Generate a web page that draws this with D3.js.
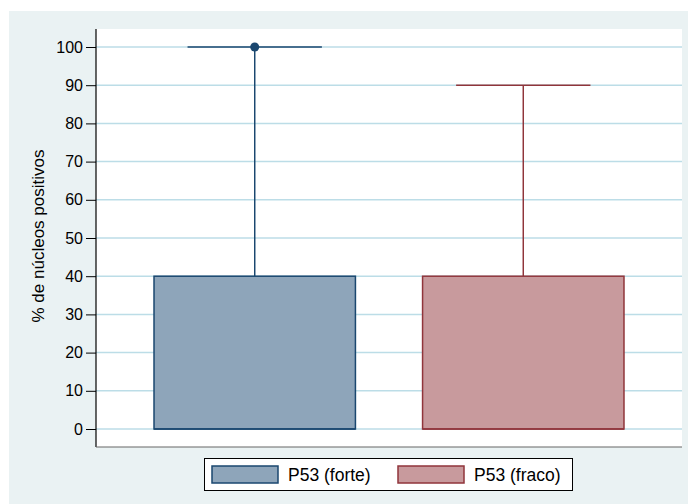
<!DOCTYPE html>
<html>
<head>
<meta charset="utf-8">
<script src="https://cdn.jsdelivr.net/npm/d3@7"></script>
<style>
  html, body { margin: 0; padding: 0; background: #ffffff; }
  svg { display: block; font-family: "Liberation Sans", Arial, sans-serif; }
</style>
</head>
<body>
<svg id="chart" width="688" height="504"></svg>
<script>
// Box plot summary per group
const groups = ["P53 (forte)", "P53 (fraco)"];
const q1Values = [0, 0];
const medianValues = [0, 0];
const q3Values = [40, 40];
const lowerWhisker = [0, 0];
const upperWhisker = [100, 90];
const outliers = [[100], []];
const yTicks = [0, 10, 20, 30, 40, 50, 60, 70, 80, 90, 100];
const strokeColors = ["#1a476f", "#90353b"];
const fillColors = ["#8ea5ba", "#c89a9d"];

const svg = d3.select("#chart");

// outer graph region
svg.append("rect").attr("x", 9).attr("y", 11).attr("width", 679).attr("height", 493)
  .attr("fill", "#eaf2f3");

const plot = { left: 96, right: 682, top: 29, bottom: 447 };
svg.append("rect").attr("x", plot.left).attr("y", plot.top)
  .attr("width", plot.right - plot.left).attr("height", plot.bottom - plot.top)
  .attr("fill", "#ffffff");

const y = d3.scaleLinear().domain([0, 100]).range([429, 47]);
const x = d3.scaleBand().domain(groups).range([plot.left, plot.right])
  .paddingInner(0.25).paddingOuter(0.216);

// gridlines
svg.append("g").selectAll("line").data(yTicks).join("line")
  .attr("x1", plot.left).attr("x2", plot.right)
  .attr("y1", d => y(d)).attr("y2", d => y(d))
  .attr("stroke", "#bcdde7").attr("stroke-width", 1.5);

// y axis
const yAxis = d3.axisLeft(y).tickValues(yTicks).tickSize(10).tickPadding(3);
const gy = svg.append("g").attr("transform", `translate(${plot.left},0)`).call(yAxis);
gy.select(".domain").remove();
gy.selectAll(".tick line").attr("stroke", "#000").attr("stroke-width", 1);
gy.selectAll(".tick text").attr("font-size", 16).attr("fill", "#000")
  .attr("font-family", "Liberation Sans, Arial, sans-serif");
svg.append("line").attr("x1", plot.left).attr("x2", plot.left)
  .attr("y1", plot.top).attr("y2", plot.bottom).attr("stroke", "#000").attr("stroke-width", 1.2);
svg.append("line").attr("x1", plot.left).attr("x2", plot.right)
  .attr("y1", plot.bottom).attr("y2", plot.bottom).attr("stroke", "#666").attr("stroke-width", 1.2);

// y axis title
svg.append("text").attr("transform", `translate(44,236) rotate(-90)`)
  .attr("text-anchor", "middle").attr("font-size", 17).attr("fill", "#000")
  .text("% de núcleos positivos");

// boxes
groups.forEach((g, i) => {
  const bx = x(g), bw = x.bandwidth(), cx = bx + bw / 2;
  const capW = bw * 0.667;
  const grp = svg.append("g");
  // whisker up
  grp.append("line").attr("x1", cx).attr("x2", cx)
    .attr("y1", y(q3Values[i])).attr("y2", y(upperWhisker[i]))
    .attr("stroke", strokeColors[i]).attr("stroke-width", 1.5);
  grp.append("line").attr("x1", cx - capW / 2).attr("x2", cx + capW / 2)
    .attr("y1", y(upperWhisker[i])).attr("y2", y(upperWhisker[i]))
    .attr("stroke", strokeColors[i]).attr("stroke-width", 1.5);
  // whisker down
  grp.append("line").attr("x1", cx).attr("x2", cx)
    .attr("y1", y(q1Values[i])).attr("y2", y(lowerWhisker[i]))
    .attr("stroke", strokeColors[i]).attr("stroke-width", 1.5);
  // box
  grp.append("rect").attr("x", bx).attr("width", bw)
    .attr("y", y(q3Values[i])).attr("height", y(q1Values[i]) - y(q3Values[i]))
    .attr("fill", fillColors[i]).attr("stroke", strokeColors[i]).attr("stroke-width", 1.5);
  // median
  grp.append("line").attr("x1", bx).attr("x2", bx + bw)
    .attr("y1", y(medianValues[i])).attr("y2", y(medianValues[i]))
    .attr("stroke", strokeColors[i]).attr("stroke-width", 1.5);
  // outliers
  grp.selectAll("circle").data(outliers[i]).join("circle")
    .attr("cx", cx).attr("cy", d => y(d)).attr("r", 4.5)
    .attr("fill", strokeColors[i]);
});

// legend
const legend = svg.append("g");
legend.append("rect").attr("x", 204.5).attr("y", 458.5).attr("width", 368).attr("height", 32)
  .attr("fill", "#ffffff").attr("stroke", "#000").attr("stroke-width", 1);
const legendX = [212, 398];
groups.forEach((g, i) => {
  legend.append("rect").attr("x", legendX[i]).attr("y", 466).attr("width", 66).attr("height", 17)
    .attr("fill", fillColors[i]).attr("stroke", strokeColors[i]).attr("stroke-width", 1.5);
  legend.append("text").attr("x", legendX[i] + 76).attr("y", 481)
    .attr("font-size", 17.5).attr("fill", "#000").text(g);
});
</script>
</body>
</html>
